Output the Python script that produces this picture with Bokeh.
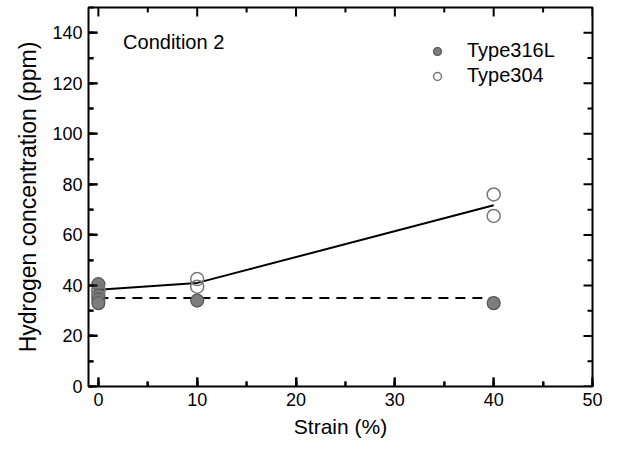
from bokeh.plotting import figure
from bokeh.models import (Range1d, SingleIntervalTicker, Legend, LegendItem, Label)
from bokeh.embed import file_html
from bokeh.resources import INLINE

# Data
x_316 = [0, 0, 0, 0, 10, 40]
y_316 = [40.5, 36.0, 34.5, 33.0, 34.0, 33.0]
x_304 = [0, 0, 10, 10, 40, 40]
y_304 = [38.5, 37.5, 42.5, 39.5, 76.0, 67.5]
line_x = [0, 10, 40]
line_y = [38.3, 41.0, 71.7]
dash_x = [0, 40]
dash_y = [35.0, 35.0]

# Tick lists (inward ticks on all four sides)
x_major = [0, 10, 20, 30, 40, 50]
x_minor = [5, 15, 25, 35, 45]
y_major = [0, 20, 40, 60, 80, 100, 120, 140]
y_minor = [10, 30, 50, 70, 90, 110, 130]

FONT = "Liberation Sans"
X0, X1, Y0, Y1 = -1, 50, 0, 150
W, H = 619, 449
BL, BR, BT, BB = 88, 27, 7, 63

p = figure(width=W, height=H, output_backend="svg", toolbar_location=None,
           x_range=Range1d(X0, X1), y_range=Range1d(Y0, Y1),
           min_border_left=BL, min_border_right=BR, min_border_top=BT, min_border_bottom=BB)
p.xgrid.visible = False
p.ygrid.visible = False
p.outline_line_color = "black"
p.outline_line_width = 2

p.xaxis.ticker = SingleIntervalTicker(interval=10, num_minor_ticks=2)
p.yaxis.ticker = SingleIntervalTicker(interval=20, num_minor_ticks=2)
for ax in (p.xaxis[0], p.yaxis[0]):
    ax.major_tick_in = 9
    ax.major_tick_out = 0
    ax.minor_tick_in = 5
    ax.minor_tick_out = 0
    ax.major_tick_line_width = 2
    ax.minor_tick_line_width = 2
    ax.major_label_text_font = FONT
    ax.major_label_text_font_size = "18px"
    ax.major_label_text_color = "black"
    ax.axis_label_text_font = FONT
    ax.axis_label_text_font_style = "normal"
    ax.axis_label_text_color = "black"
p.xaxis.axis_label = "Strain (%)"
p.yaxis.axis_label = "Hydrogen concentration (ppm)"
p.xaxis.axis_label_text_font_size = "21px"
p.yaxis.axis_label_text_font_size = "23px"
p.xaxis.major_label_standoff = 6
p.yaxis.major_label_standoff = 6
p.xaxis.axis_label_standoff = 6
p.yaxis.axis_label_standoff = 8

# inward ticks drawn as thin filled bars (pixel sizes converted to data units)
fw = W - BL - BR
fh = H - BT - BB
dx = (X1 - X0) / fw
dy = (Y1 - Y0) / fh
TW = 1.0  # half tick width in px

def xticks(vals, L):
    n = len(vals)
    lft = [v - TW * dx for v in vals]
    rgt = [v + TW * dx for v in vals]
    p.quad(left=lft, right=rgt, bottom=[Y0] * n, top=[Y0 + L * dy] * n,
           fill_color="black", line_color=None)
    p.quad(left=list(lft), right=list(rgt), bottom=[Y1 - L * dy] * n, top=[Y1] * n,
           fill_color="black", line_color=None)

def yticks(vals, L):
    n = len(vals)
    bot = [v - TW * dy for v in vals]
    tp = [v + TW * dy for v in vals]
    p.quad(left=[X0] * n, right=[X0 + L * dx] * n, bottom=bot, top=tp,
           fill_color="black", line_color=None)
    p.quad(left=[X1 - L * dx] * n, right=[X1] * n, bottom=list(bot), top=list(tp),
           fill_color="black", line_color=None)

xticks(x_major, 9)
xticks(x_minor, 5)
yticks(y_major, 9)
yticks(y_minor, 5)

p.line(line_x, line_y, line_color="black", line_width=2)
p.line(dash_x, dash_y, line_color="black", line_width=2, line_dash="10 7")

r316 = p.scatter(x_316, y_316, size=13, fill_color="#7d7d7d", line_color="#555555", line_width=1.2)
r304 = p.scatter(x_304, y_304, size=13, fill_color=None, line_color="#777777", line_width=1.5)

legend = Legend(items=[LegendItem(label="Type316L", renderers=[r316], index=0),
                       LegendItem(label="Type304", renderers=[r304], index=0)],
                location=(339, 299), background_fill_color=None, border_line_color=None,
                label_text_font=FONT, label_text_font_size="20px", label_text_color="black",
                glyph_width=20, glyph_height=20, spacing=2, label_standoff=20, padding=4, margin=0)
p.add_layout(legend)

p.add_layout(Label(x=2.5, y=136.5, text="Condition 2", text_font=FONT, text_font_size="20px",
                   text_baseline="middle", text_color="black"))

open("out.html", "w").write(file_html(p, INLINE))
